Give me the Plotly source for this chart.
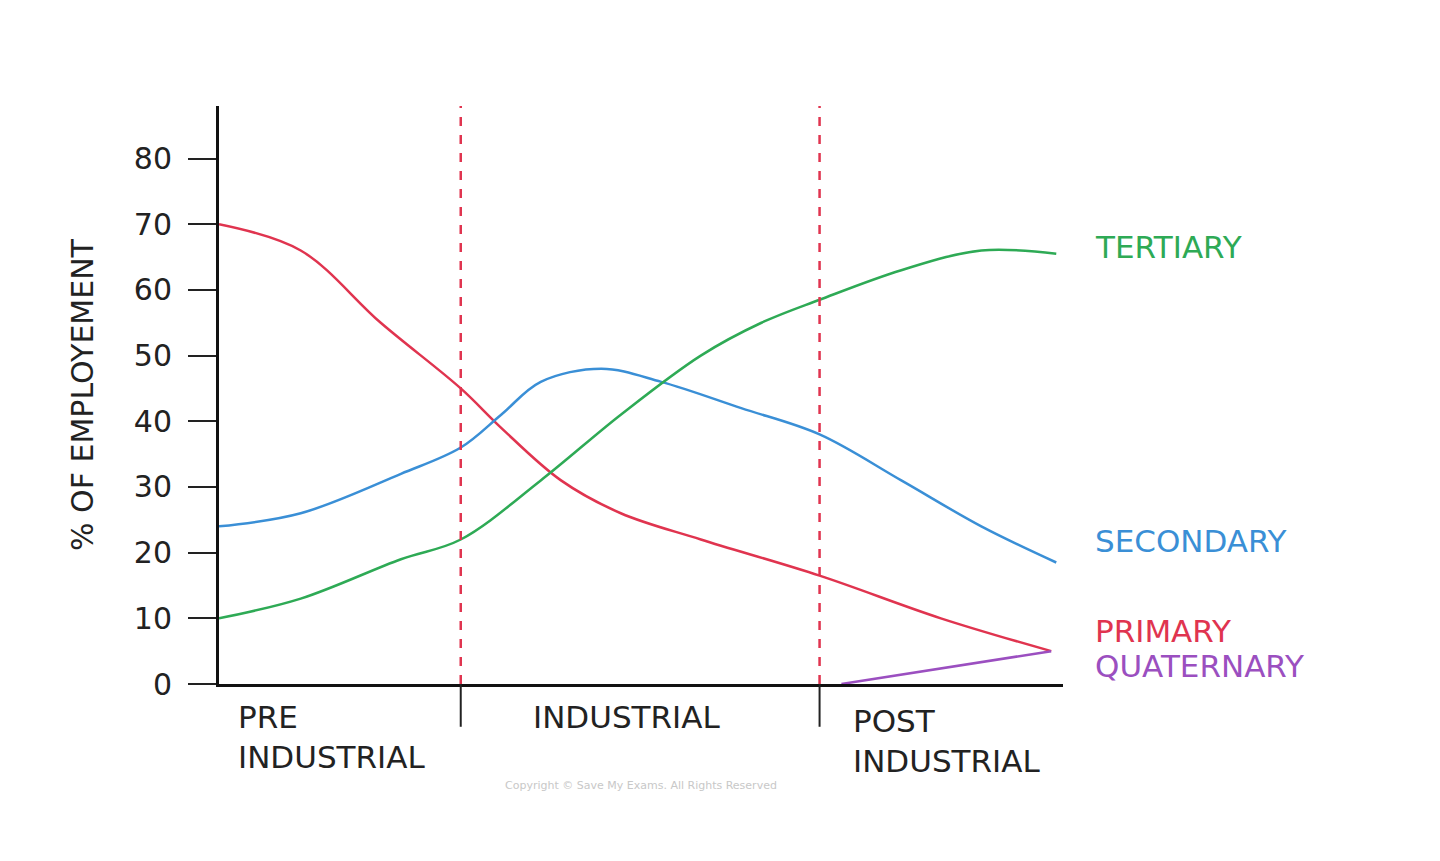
import plotly.graph_objects as go

primary_x = [0, 9.7, 19.2, 28.7, 33.5, 40.6, 47.7, 57.2, 71.3, 85.7, 98.8]
primary_y = [70, 66, 55, 45, 39, 31, 26, 22, 16.5, 10, 5]
secondary_x = [0, 9.7, 21.6, 28.7, 33.5, 38.2, 45.4, 52.5, 62.0, 71.3, 81.0, 90.5, 99.4]
secondary_y = [24, 26, 32, 36, 41, 46, 48, 46, 42, 38, 31, 24, 18.5]
tertiary_x = [0, 9.7, 21.6, 28.7, 38.2, 47.7, 57.2, 64.4, 71.3, 81.0, 90.5, 99.4]
tertiary_y = [10, 13, 19, 22, 31, 41, 50, 55, 58.5, 63, 66, 65.5]
quaternary_x = [73.9, 98.8]
quaternary_y = [0, 5]
phase_bounds = [28.7, 71.3]
y_ticks = [0, 10, 20, 30, 40, 50, 60, 70, 80]

XMAX, YMAX = 100.2, 88
FONT = "DejaVu Sans"
fig = go.Figure()
series = [(primary_x, primary_y, "#e0344f"), (secondary_x, secondary_y, "#3a8fd6"),
          (tertiary_x, tertiary_y, "#2eaa55"), (quaternary_x, quaternary_y, "#9b4fc0")]
for xs, ys, c in series:
    fig.add_trace(go.Scatter(x=xs, y=ys, mode="lines", line=dict(color=c, width=2.5, shape="spline", smoothing=1.0), hoverinfo="skip"))

for b in phase_bounds:
    fig.add_shape(type="line", x0=b, x1=b, y0=0, y1=YMAX, line=dict(color="#e0344f", width=2.5, dash="dash"))
    fig.add_shape(type="line", xref="x", yref="paper", x0=b, x1=b, y0=0, y1=-0.074, line=dict(color="#222", width=2))

labels = [("TERTIARY", 66.5, "#2eaa55"), ("SECONDARY", 21.8, "#3a8fd6"), ("PRIMARY", 8.1, "#e0344f"), ("QUATERNARY", 2.7, "#9b4fc0")]
for t, y, c in labels:
    fig.add_annotation(xref="paper", yref="paper", x=1.036, y=y / YMAX, text=t, showarrow=False,
                       xanchor="left", yanchor="middle", font=dict(family=FONT, size=31, color=c))

for t, x, y in [("PRE<br>INDUSTRIAL", 2, -2.0), ("INDUSTRIAL", 37, -2.0), ("POST<br>INDUSTRIAL", 75, -2.6)]:
    fig.add_annotation(xref="paper", yref="paper", x=x / XMAX, y=y / YMAX, text=t, showarrow=False,
                       xanchor="left", yanchor="top", align="left",
                       font=dict(family=FONT, size=31, color="#222"))
fig.add_annotation(xref="paper", yref="paper", x=0.5, y=-0.19, text="Copyright © Save My Exams. All Rights Reserved",
                   showarrow=False, font=dict(family=FONT, size=11, color="#c8c8c8"))

fig.update_layout(
    width=1440, height=861, showlegend=False, plot_bgcolor="white", paper_bgcolor="white",
    margin=dict(l=211, r=385, t=98, b=185),
    xaxis=dict(range=[0, XMAX], showgrid=False, zeroline=False, showticklabels=False, ticks="",
               showline=True, linecolor="#111", linewidth=3),
    yaxis=dict(range=[0, YMAX], tickvals=y_ticks, showgrid=False, zeroline=False, ticks="outside",
               ticklen=28, tickwidth=2, tickcolor="#222", showline=True, linecolor="#111", linewidth=3,
               ticklabelstandoff=10,
               tickfont=dict(family=FONT, size=30, color="#222"),
               title=dict(text="% OF EMPLOYEMENT", font=dict(family=FONT, size=30, color="#222"), standoff=32)),
)
fig.write_html("out.html")
